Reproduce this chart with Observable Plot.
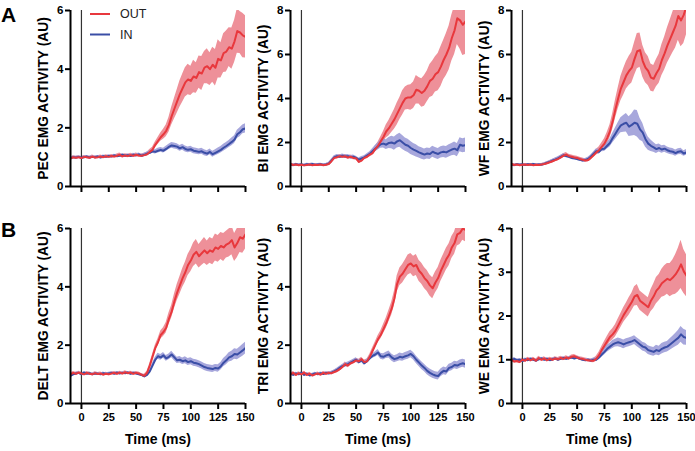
<!DOCTYPE html>
<html><head><meta charset="utf-8">
<script src="https://cdn.jsdelivr.net/npm/d3@7"></script>
<script src="https://cdn.jsdelivr.net/npm/@observablehq/plot@0.6"></script>
<style>
body{margin:0;background:#fff;}
#chart{position:relative;width:695px;height:451px;overflow:hidden;font-family:"Liberation Sans",Arial,Helvetica,sans-serif;}
#chart svg{position:absolute;overflow:visible;}
</style></head><body><div id="chart"></div>
<script>
const time = [-10,-7.5,-5,-2.5,0,2.5,5,7.5,10,12.5,
15,17.5,20,22.5,25,27.5,30,32.5,35,37.5,
40,42.5,45,47.5,50,52.5,55,57.5,60,62.5,
65,67.5,70,72.5,75,77.5,80,82.5,85,87.5,
90,92.5,95,97.5,100,102.5,105,107.5,110,112.5,
115,117.5,120,122.5,125,127.5,130,132.5,135,137.5,
140,142.5,145,147.5,150];
const xTicks = [0,25,50,75,100,125,150];

// PEC
const pecOut = [0.95,1.00,0.98,1.00,0.97,1.01,1.00,0.98,1.02,0.99,
1.00,1.02,1.00,1.03,1.01,1.04,1.02,1.05,1.08,1.03,
1.06,1.04,1.07,1.05,1.08,1.06,1.05,1.07,1.10,1.18,
1.25,1.42,1.55,1.68,1.78,1.90,2.10,2.40,2.65,2.90,
3.15,3.35,3.55,3.65,3.60,3.75,3.70,3.90,3.85,4.05,
4.10,4.00,4.15,4.05,4.35,4.30,4.55,4.60,4.75,4.70,
4.95,5.30,5.25,5.15,5.10];
const pecOutSem = [0.05,0.05,0.05,0.05,0.05,0.05,0.05,0.05,0.05,0.05,
0.05,0.05,0.05,0.05,0.05,0.05,0.05,0.06,0.06,0.06,
0.06,0.06,0.06,0.06,0.06,0.06,0.06,0.06,0.07,0.08,
0.09,0.10,0.12,0.14,0.17,0.20,0.25,0.30,0.35,0.40,
0.45,0.48,0.50,0.52,0.50,0.55,0.52,0.55,0.58,0.55,
0.60,0.56,0.60,0.62,0.65,0.60,0.66,0.70,0.66,0.70,
0.72,0.76,0.72,0.76,0.72];
const pecIn = [0.96,1.00,0.99,1.01,0.98,1.00,1.02,0.99,1.01,1.00,
1.02,0.99,1.03,1.01,1.04,1.02,1.06,1.03,1.05,1.08,
1.05,1.07,1.04,1.08,1.06,1.09,1.05,1.08,1.12,1.15,
1.20,1.18,1.22,1.25,1.22,1.28,1.35,1.40,1.38,1.36,
1.30,1.34,1.28,1.25,1.27,1.22,1.20,1.18,1.20,1.15,
1.12,1.18,1.10,1.15,1.20,1.25,1.32,1.38,1.45,1.52,
1.60,1.78,1.85,1.95,1.98];
const pecInSem = [0.04,0.04,0.04,0.04,0.04,0.04,0.04,0.04,0.04,0.04,
0.04,0.04,0.04,0.04,0.04,0.04,0.04,0.04,0.04,0.04,
0.04,0.04,0.04,0.05,0.05,0.05,0.05,0.05,0.06,0.06,
0.07,0.07,0.08,0.08,0.08,0.09,0.09,0.10,0.10,0.10,
0.10,0.10,0.10,0.10,0.10,0.10,0.10,0.10,0.10,0.10,
0.10,0.10,0.10,0.10,0.11,0.11,0.12,0.12,0.12,0.13,
0.13,0.14,0.15,0.15,0.16];

// BI
const biOut = [1.02,0.98,1.00,0.97,0.99,0.96,0.98,1.00,0.97,0.99,
0.98,1.00,0.97,0.99,1.02,1.15,1.30,1.33,1.38,1.35,
1.37,1.32,1.35,1.30,1.28,1.12,1.18,1.30,1.35,1.45,
1.52,1.70,1.85,2.05,2.25,2.50,2.65,2.85,3.05,3.30,
3.55,3.80,4.00,4.05,4.05,4.15,4.40,4.35,4.25,4.35,
4.55,4.80,4.90,5.10,5.20,5.45,5.75,6.00,6.30,6.75,
7.10,7.65,7.55,7.35,7.50];
const biOutSem = [0.05,0.05,0.05,0.05,0.05,0.05,0.05,0.05,0.05,0.05,
0.05,0.05,0.05,0.05,0.06,0.07,0.08,0.08,0.08,0.08,
0.08,0.08,0.08,0.08,0.08,0.08,0.08,0.08,0.09,0.10,
0.11,0.13,0.16,0.20,0.25,0.30,0.35,0.40,0.45,0.50,
0.50,0.55,0.52,0.55,0.58,0.60,0.65,0.60,0.65,0.70,
0.70,0.75,0.80,0.80,0.85,0.90,0.90,0.95,1.00,1.05,
1.10,1.20,1.30,1.40,1.50];
const biIn = [1.00,0.97,1.01,0.98,1.00,0.97,1.01,0.99,1.02,0.98,
1.00,1.01,0.98,1.00,1.04,1.18,1.32,1.38,1.35,1.40,
1.36,1.38,1.33,1.35,1.30,1.22,1.28,1.32,1.40,1.48,
1.60,1.72,1.82,1.92,1.95,1.90,1.98,2.00,1.95,2.05,
2.10,2.00,1.90,1.85,1.75,1.68,1.62,1.55,1.50,1.45,
1.50,1.48,1.58,1.52,1.48,1.55,1.58,1.55,1.62,1.68,
1.72,1.65,1.90,1.85,1.88];
const biInSem = [0.05,0.05,0.05,0.05,0.05,0.05,0.05,0.05,0.05,0.05,
0.05,0.05,0.05,0.05,0.06,0.07,0.08,0.08,0.08,0.08,
0.08,0.08,0.08,0.08,0.08,0.08,0.08,0.08,0.09,0.10,
0.12,0.14,0.16,0.18,0.20,0.22,0.25,0.28,0.30,0.30,
0.32,0.32,0.30,0.30,0.30,0.28,0.28,0.26,0.26,0.25,
0.25,0.25,0.25,0.25,0.25,0.26,0.26,0.27,0.28,0.28,
0.30,0.30,0.32,0.32,0.32];

// WF
const wfOut = [1.02,0.98,1.00,0.97,0.99,1.00,0.98,1.00,0.97,0.99,
0.98,1.00,1.02,1.06,1.10,1.15,1.20,1.25,1.32,1.40,
1.45,1.38,1.35,1.32,1.30,1.25,1.22,1.18,1.20,1.30,
1.42,1.55,1.65,1.80,1.95,2.20,2.50,2.95,3.50,4.00,
4.45,4.75,5.05,5.25,5.40,5.80,6.15,6.20,5.70,5.40,
5.25,4.95,4.90,5.15,5.35,5.75,6.05,6.40,6.70,7.00,
7.30,7.75,7.55,7.80,8.20];
const wfOutSem = [0.05,0.05,0.05,0.05,0.05,0.05,0.05,0.05,0.05,0.05,
0.05,0.05,0.06,0.07,0.07,0.08,0.08,0.08,0.09,0.09,
0.09,0.09,0.08,0.08,0.08,0.08,0.08,0.08,0.09,0.10,
0.11,0.13,0.15,0.18,0.22,0.26,0.30,0.36,0.42,0.48,
0.55,0.60,0.62,0.66,0.70,0.75,0.80,0.78,0.72,0.68,
0.66,0.62,0.60,0.62,0.66,0.70,0.75,0.80,0.86,0.92,
1.00,1.10,1.20,1.30,1.30];
const wfIn = [1.00,0.97,1.01,0.99,1.00,0.98,1.01,0.99,1.02,0.98,
1.00,0.99,1.03,1.08,1.12,1.18,1.22,1.28,1.35,1.42,
1.38,1.35,1.30,1.28,1.25,1.22,1.18,1.20,1.25,1.35,
1.48,1.60,1.58,1.70,1.72,1.85,1.98,2.20,2.40,2.60,
2.78,2.85,2.90,2.72,2.80,2.90,2.85,2.60,2.45,2.15,
1.95,1.85,1.78,1.70,1.75,1.68,1.72,1.65,1.60,1.58,
1.52,1.58,1.60,1.50,1.55];
const wfInSem = [0.04,0.04,0.04,0.04,0.04,0.04,0.04,0.04,0.04,0.04,
0.04,0.04,0.05,0.05,0.06,0.06,0.07,0.07,0.07,0.07,
0.07,0.07,0.07,0.07,0.07,0.07,0.07,0.07,0.08,0.08,
0.09,0.10,0.11,0.12,0.13,0.15,0.18,0.22,0.26,0.30,
0.34,0.38,0.42,0.45,0.50,0.58,0.60,0.50,0.42,0.36,
0.30,0.26,0.22,0.20,0.18,0.17,0.16,0.15,0.15,0.15,
0.14,0.14,0.14,0.13,0.13];

// DELT
const deltOut = [1.00,1.05,1.02,1.06,1.03,1.00,1.05,1.02,1.00,1.04,
1.01,1.03,0.99,1.02,1.00,1.03,1.05,1.02,1.06,1.03,
1.07,1.04,1.06,1.02,1.05,1.03,0.98,0.95,1.05,1.30,
1.60,1.90,2.10,2.35,2.45,2.60,2.90,3.15,3.50,3.80,
4.05,4.30,4.50,4.75,4.90,5.10,5.20,5.05,5.15,5.25,
5.15,5.25,5.20,5.35,5.30,5.40,5.35,5.45,5.50,5.60,
5.35,5.50,5.70,5.65,5.80];
const deltOutSem = [0.05,0.05,0.05,0.05,0.05,0.05,0.05,0.05,0.05,0.05,
0.05,0.05,0.05,0.05,0.05,0.05,0.05,0.05,0.05,0.05,
0.05,0.05,0.05,0.05,0.05,0.05,0.05,0.05,0.06,0.07,
0.08,0.10,0.12,0.14,0.15,0.18,0.20,0.22,0.25,0.28,
0.30,0.32,0.34,0.36,0.38,0.40,0.42,0.40,0.42,0.44,
0.42,0.44,0.44,0.46,0.46,0.46,0.48,0.46,0.48,0.50,
0.48,0.50,0.52,0.50,0.50];
const deltIn = [0.95,1.00,1.03,1.05,1.00,1.06,1.02,1.04,1.00,1.03,
1.02,1.00,1.04,1.01,1.03,1.05,1.02,1.06,1.03,1.05,
1.04,1.06,1.02,1.05,1.03,1.00,0.98,0.93,0.98,1.10,
1.30,1.50,1.62,1.58,1.65,1.55,1.60,1.68,1.58,1.48,
1.50,1.45,1.48,1.42,1.45,1.40,1.38,1.35,1.30,1.25,
1.22,1.20,1.18,1.22,1.20,1.28,1.40,1.48,1.58,1.62,
1.70,1.68,1.75,1.82,1.90];
const deltInSem = [0.04,0.04,0.04,0.04,0.04,0.04,0.04,0.04,0.04,0.04,
0.04,0.04,0.04,0.04,0.04,0.04,0.04,0.04,0.04,0.04,
0.04,0.04,0.04,0.04,0.04,0.04,0.04,0.04,0.05,0.06,
0.08,0.09,0.10,0.10,0.10,0.10,0.10,0.11,0.11,0.11,
0.11,0.11,0.12,0.12,0.12,0.12,0.12,0.12,0.12,0.12,
0.12,0.12,0.12,0.12,0.13,0.13,0.14,0.15,0.16,0.17,
0.18,0.18,0.19,0.20,0.20];

// TRI
const triOut = [1.00,1.05,0.98,1.04,1.00,1.06,0.98,1.02,0.96,1.00,
1.03,0.99,1.05,1.02,1.05,1.04,1.08,1.12,1.18,1.25,
1.35,1.30,1.38,1.42,1.48,1.45,1.52,1.42,1.45,1.60,
1.80,2.00,2.20,2.35,2.55,2.75,3.00,3.25,3.60,4.10,
4.35,4.45,4.60,4.75,4.80,4.70,4.75,4.55,4.45,4.30,
4.20,4.05,3.95,4.15,4.30,4.55,4.75,4.95,5.10,5.35,
5.50,5.80,5.85,6.00,5.95];
const triOutSem = [0.05,0.05,0.05,0.05,0.05,0.05,0.05,0.05,0.05,0.05,
0.05,0.05,0.05,0.05,0.05,0.06,0.06,0.07,0.07,0.07,
0.07,0.07,0.07,0.07,0.07,0.07,0.07,0.07,0.08,0.09,
0.10,0.11,0.12,0.14,0.16,0.18,0.20,0.22,0.25,0.28,
0.30,0.32,0.32,0.34,0.34,0.35,0.36,0.36,0.36,0.36,
0.36,0.36,0.36,0.36,0.36,0.36,0.37,0.37,0.38,0.38,
0.38,0.40,0.40,0.40,0.40];
const triIn = [1.02,0.98,1.03,1.00,1.05,0.98,1.02,0.96,1.00,1.03,
1.00,1.04,1.01,1.05,1.03,1.06,1.10,1.15,1.22,1.28,
1.32,1.35,1.40,1.45,1.50,1.42,1.48,1.38,1.45,1.55,
1.63,1.68,1.75,1.62,1.60,1.65,1.68,1.58,1.52,1.55,
1.60,1.58,1.62,1.65,1.70,1.62,1.50,1.40,1.30,1.22,
1.12,1.05,1.00,0.96,0.94,1.05,1.12,1.10,1.22,1.25,
1.32,1.30,1.35,1.38,1.35];
const triInSem = [0.04,0.04,0.04,0.04,0.04,0.04,0.04,0.04,0.04,0.04,
0.04,0.04,0.04,0.04,0.04,0.05,0.05,0.06,0.06,0.06,
0.07,0.07,0.07,0.07,0.07,0.07,0.07,0.07,0.07,0.07,
0.08,0.09,0.10,0.10,0.11,0.11,0.12,0.12,0.12,0.12,
0.13,0.13,0.13,0.13,0.13,0.13,0.13,0.13,0.13,0.13,
0.13,0.13,0.13,0.13,0.13,0.13,0.13,0.13,0.13,0.13,
0.13,0.13,0.14,0.14,0.14];

// WE
const weOut = [1.00,0.96,0.97,0.95,1.00,0.98,1.02,0.99,1.02,0.98,
1.04,1.00,1.03,0.99,1.02,1.00,1.03,1.01,1.04,1.02,
1.05,1.03,1.07,1.08,1.05,1.03,1.02,1.00,0.99,0.98,
0.98,1.02,1.10,1.22,1.32,1.42,1.52,1.58,1.66,1.78,
1.90,2.02,2.12,2.22,2.32,2.45,2.48,2.35,2.30,2.25,
2.20,2.35,2.45,2.58,2.65,2.75,2.80,2.85,2.82,2.88,
2.95,3.05,3.18,3.02,2.92];
const weOutSem = [0.04,0.04,0.04,0.04,0.04,0.04,0.04,0.04,0.04,0.04,
0.04,0.04,0.04,0.04,0.04,0.04,0.04,0.04,0.04,0.04,
0.04,0.04,0.04,0.04,0.04,0.04,0.04,0.04,0.04,0.04,
0.05,0.06,0.07,0.08,0.10,0.11,0.12,0.13,0.14,0.15,
0.16,0.17,0.18,0.20,0.20,0.22,0.24,0.22,0.22,0.22,
0.22,0.25,0.28,0.30,0.30,0.32,0.35,0.35,0.38,0.40,
0.45,0.50,0.55,0.50,0.48];
const weIn = [0.98,1.02,0.99,1.00,0.97,1.01,0.99,1.02,1.00,0.98,
1.01,1.03,1.00,1.02,0.99,1.01,1.03,1.00,1.02,1.04,
1.02,1.04,1.05,1.03,1.05,1.02,1.00,0.99,1.00,0.98,
1.00,1.00,1.05,1.12,1.18,1.25,1.30,1.35,1.38,1.40,
1.38,1.35,1.38,1.40,1.42,1.45,1.40,1.35,1.30,1.28,
1.22,1.20,1.18,1.22,1.20,1.25,1.28,1.30,1.35,1.40,
1.45,1.50,1.58,1.52,1.50];
const weInSem = [0.03,0.03,0.03,0.03,0.03,0.03,0.03,0.03,0.03,0.03,
0.03,0.03,0.03,0.03,0.03,0.03,0.03,0.03,0.03,0.03,
0.03,0.03,0.03,0.03,0.03,0.03,0.03,0.03,0.03,0.03,
0.04,0.04,0.05,0.06,0.07,0.08,0.08,0.09,0.09,0.10,
0.10,0.10,0.10,0.10,0.10,0.10,0.10,0.10,0.10,0.10,
0.10,0.10,0.10,0.11,0.11,0.12,0.12,0.12,0.13,0.14,
0.15,0.17,0.18,0.18,0.17];

const panelLabels = ["PEC EMG ACTIVITY (AU)","BI EMG ACTIVITY (AU)","WF EMG ACTIVITY (AU)",
  "DELT EMG ACTIVITY (AU)","TRI EMG ACTIVITY (AU)","WE EMG ACTIVITY (AU)"];
const yMaxes = [6,8,8,6,6,4];
const yTickSets = [[0,2,4,6],[0,2,4,6,8],[0,2,4,6,8],[0,2,4,6],[0,2,4,6],[0,1,2,3,4]];
const outSeries = [pecOut,biOut,wfOut,deltOut,triOut,weOut];
const outSems = [pecOutSem,biOutSem,wfOutSem,deltOutSem,triOutSem,weOutSem];
const inSeries = [pecIn,biIn,wfIn,deltIn,triIn,weIn];
const inSems = [pecInSem,biInSem,wfInSem,deltInSem,triInSem,weInSem];
const xLabel = "Time (ms)";
const legendLabels = ["OUT","IN"];
const panelLetters = ["A","B"];

const RED = "#e8383d", RED_BAND = "#ee9099", BLUE = "#3a4ea6", BLUE_BAND = "#9898d6";
const FONT = "'Liberation Sans', Arial, Helvetica, sans-serif";

// layout (pixels)
const lefts = [0, 220, 441];
const chart = document.getElementById("chart");

for (let i = 0; i < 6; i++) {
  const bottom = i >= 3;
  const rows = time.map((t, k) => ({t, o: outSeries[i][k], os: outSems[i][k], n: inSeries[i][k], ns: inSems[i][k]}));
  const marks = [
    Plot.areaY(rows, {x: "t", y1: d => d.o - d.os, y2: d => d.o + d.os, fill: RED_BAND, clip: true}),
    Plot.areaY(rows, {x: "t", y1: d => d.n - d.ns, y2: d => d.n + d.ns, fill: BLUE_BAND, fillOpacity: 0.85, clip: true}),
    Plot.ruleX([0], {stroke: "#333", strokeWidth: 1.2}),
    Plot.lineY(rows, {x: "t", y: "n", stroke: BLUE, strokeWidth: 2, clip: true}),
    Plot.lineY(rows, {x: "t", y: "o", stroke: RED, strokeWidth: 2, clip: true}),
    Plot.ruleX([-10], {stroke: "#000", strokeWidth: 2}),
    Plot.ruleY([0], {stroke: "#000", strokeWidth: 2}),
    Plot.axisY({ticks: yTickSets[i], tickFormat: d => String(d), tickSize: 5, tickPadding: 2, strokeWidth: 2, fontSize: 11.5, fontWeight: "bold", label: null}),
    Plot.axisX({ticks: xTicks, tickSize: 6, tickPadding: 4, strokeWidth: 2, fontSize: 11, fontWeight: "bold", label: null,
      tickFormat: bottom ? (d => String(d)) : (() => "")}),
    Plot.text([panelLabels[i]], {frameAnchor: "left", textAnchor: "middle", lineAnchor: "middle", dx: -27, rotate: -90, fontSize: 13.8, fontWeight: "bold", fill: "#000"})
  ];
  if (bottom) marks.push(Plot.text([xLabel], {frameAnchor: "bottom", textAnchor: "middle", lineAnchor: "middle", dy: 36.5, fontSize: 14, fontWeight: "bold", fill: "#000"}));
  const svg = Plot.plot({
    width: 250,
    height: bottom ? 233 : 200,
    marginLeft: 70,
    marginRight: 5,
    marginTop: 10,
    marginBottom: bottom ? 48 : 14,
    x: {domain: [-10, 150], axis: null},
    y: {domain: [0, yMaxes[i]], axis: null},
    style: {background: "transparent", color: "#000", fontFamily: FONT, overflow: "visible"},
    marks
  });
  svg.style.left = lefts[i % 3] + "px";
  svg.style.top = (bottom ? 218 : 0) + "px";
  chart.appendChild(svg);
}

// overlay: panel letters and legend
const ns = "http://www.w3.org/2000/svg";
const ov = document.createElementNS(ns, "svg");
ov.setAttribute("width", 695); ov.setAttribute("height", 451);
ov.style.left = "0px"; ov.style.top = "0px"; ov.style.pointerEvents = "none";
ov.innerHTML = `
  <text x="1" y="22" font-family="${FONT}" font-size="21" font-weight="bold" fill="#000">${panelLetters[0]}</text>
  <text x="1" y="237" font-family="${FONT}" font-size="21" font-weight="bold" fill="#000">${panelLetters[1]}</text>
  <line x1="90" x2="110" y1="14" y2="14" stroke="${RED}" stroke-width="2"/>
  <line x1="90" x2="110" y1="34.5" y2="34.5" stroke="${BLUE}" stroke-width="2"/>
  <text x="120" y="18.3" font-family="${FONT}" font-size="12.5" fill="#222">${legendLabels[0]}</text>
  <text x="120" y="38.8" font-family="${FONT}" font-size="12.5" fill="#222">${legendLabels[1]}</text>`;
chart.appendChild(ov);
</script></body></html>
